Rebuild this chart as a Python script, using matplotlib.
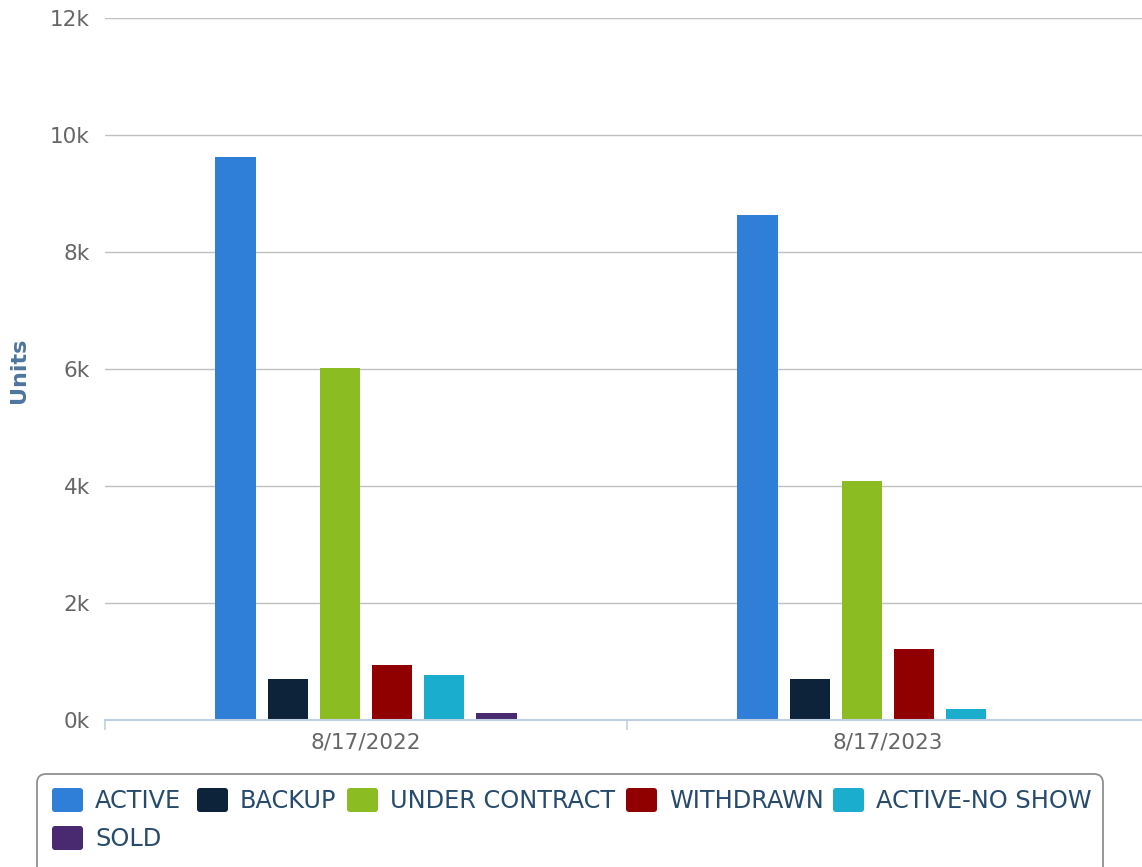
import matplotlib
matplotlib.use("Agg")
import matplotlib.pyplot as plt
from matplotlib.patches import FancyBboxPatch
from matplotlib.ticker import FixedLocator, FuncFormatter
import numpy as np

# ---- data ----
dates = ["8/17/2022", "8/17/2023"]
series_names = ["ACTIVE", "BACKUP", "UNDER CONTRACT", "WITHDRAWN", "ACTIVE-NO SHOW", "SOLD"]
active = [9630, 8630]
backup = [700, 700]
under_contract = [6010, 4090]
withdrawn = [940, 1210]
active_no_show = [770, 190]
sold = [120, 0]
series_values = [active, backup, under_contract, withdrawn, active_no_show, sold]
colors = ["#2f7ed8", "#0d233a", "#8bbc21", "#910000", "#1aadce", "#492970"]
y_ticks = [0, 2000, 4000, 6000, 8000, 10000, 12000]

W, H = 1142, 867
plt.rcParams['font.family'] = ['DejaVu Sans']
fig = plt.figure(figsize=(W / 100, H / 100), dpi=100)
ax = fig.add_axes([105 / W, (H - 720) / H, (1149 - 105) / W, 702 / H])

x = np.arange(len(dates))
n = len(series_names)
slot = 0.6 / n
for i, (name, vals, col) in enumerate(zip(series_names, series_values, colors)):
    ax.bar(x + (i - (n - 1) / 2) * slot, vals, width=0.077, color=col, zorder=3, label=name)

ax.set_xlim(-0.5, len(dates) - 0.5)
ax.set_ylim(0, 12000)
ax.yaxis.set_major_locator(FixedLocator(y_ticks))
ax.yaxis.set_major_formatter(FuncFormatter(lambda v, p: f"{int(v/1000)}k"))
ax.grid(axis='y', color='#C0C0C0', linewidth=1.0, zorder=0)
ax.set_axisbelow(True)
for s in ['top', 'right', 'left']:
    ax.spines[s].set_visible(False)
ax.spines['bottom'].set_color('#C0D0E0')
ax.spines['bottom'].set_linewidth(1.5)
ax.spines['bottom'].set_zorder(4)

ax.set_xticks(x)
ax.set_xticklabels(dates)
ax.set_xticks(np.arange(-0.5, len(dates), 1.0), minor=True)
ax.tick_params(axis='x', which='major', length=0, pad=9, labelsize=15.5, labelcolor='#666666')
ax.tick_params(axis='x', which='minor', length=7, width=1.2, color='#C0D0E0')
ax.tick_params(axis='y', length=0, pad=11, labelsize=15.5, labelcolor='#666666')

fig.text(19 / W, (H - 370) / H, "Units", rotation=90, ha='center', va='center',
         color='#4d759e', fontsize=16, fontweight='semibold')

# ---- legend ----
ov = fig.add_axes([0, 0, 1, 1], zorder=5)
ov.set_xlim(0, W)
ov.set_ylim(H, 0)
ov.axis('off')
box = FancyBboxPatch((37, 774), 1103 - 37, 120, boxstyle="round,pad=0,rounding_size=9",
                     facecolor='white', edgecolor='#909090', linewidth=1.3, clip_on=False)
ov.add_patch(box)
leg_pos = [(52, 800), (197, 800), (347, 800), (626, 800), (833, 800), (52, 838)]
for (px, py), name, col in zip(leg_pos, series_names, colors):
    ov.add_patch(FancyBboxPatch((px, py - 12), 31, 24, boxstyle="round,pad=0,rounding_size=3",
                                facecolor=col, edgecolor='none'))
    ov.text(px + 43, py + 1, name, ha='left', va='center', fontsize=17.3, color='#274b6d')

fig.savefig("out.png", dpi=100)
